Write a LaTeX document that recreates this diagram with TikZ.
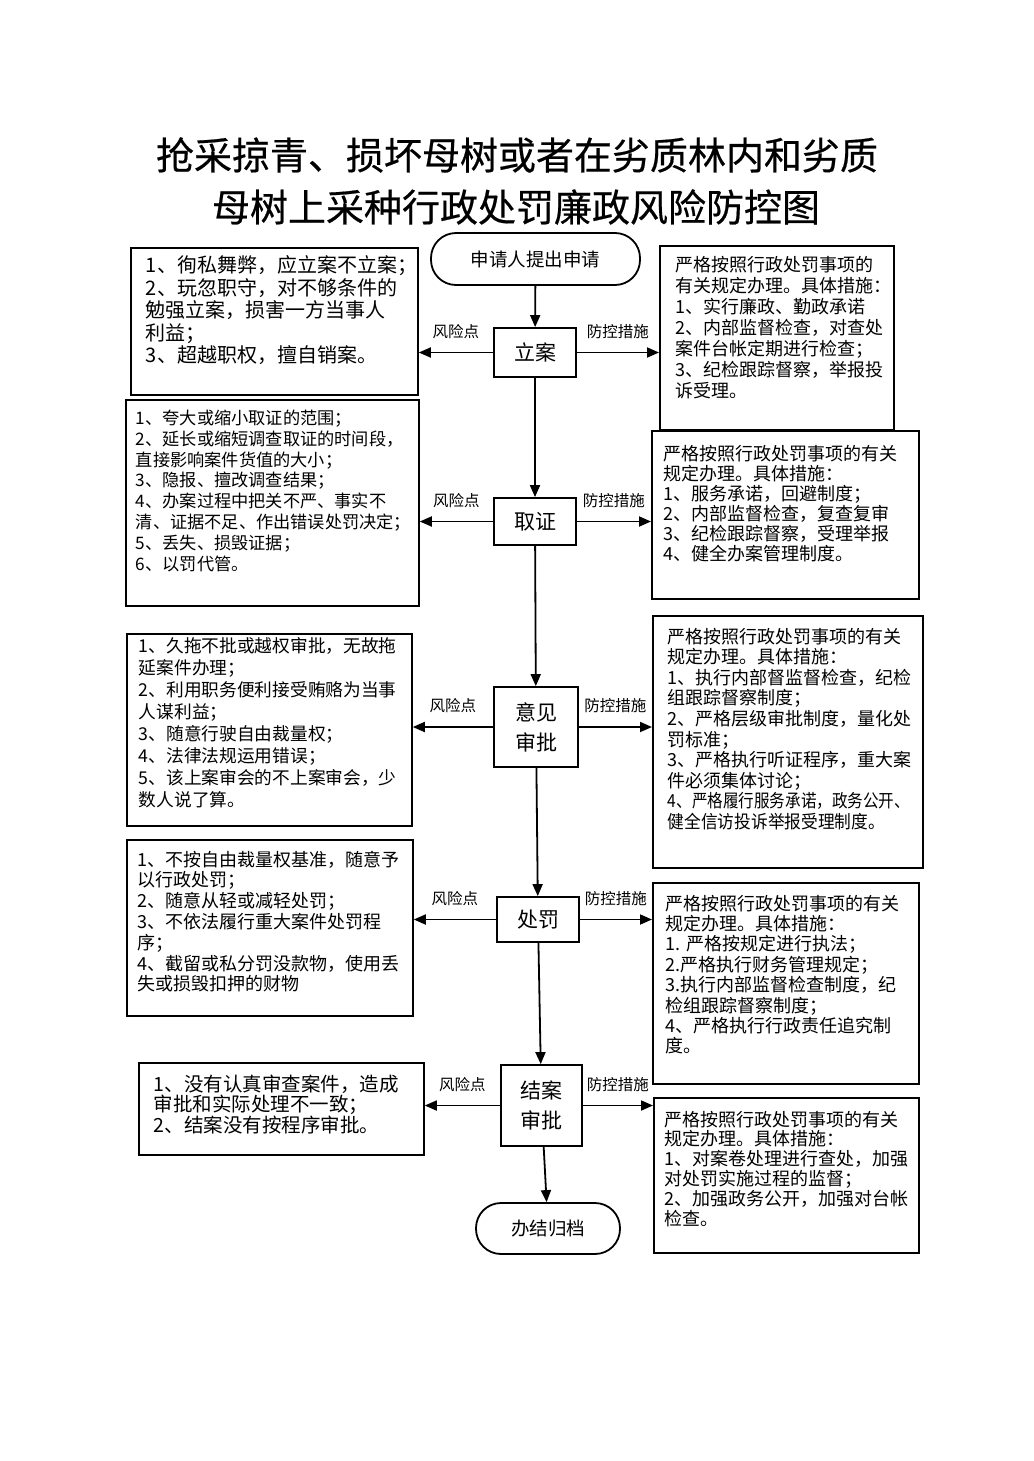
\documentclass[tikz,border=0pt]{standalone}
\usepackage{fontspec}
\setmainfont{Noto Sans CJK SC}
\newfontfamily\titlefont[FakeBold=0.5]{Noto Sans CJK SC}
\usetikzlibrary{arrows.meta,positioning}

\begin{document}
\begin{tikzpicture}[x=1pt,y=-1pt,line width=1.8pt,>={Triangle[length=12pt,width=10pt]},
        listbox/.style={draw,rectangle,anchor=north west,inner sep=0pt},
        stepbox/.style={draw,rectangle,inner sep=0pt,align=center,font=\fontsize{21}{30}\selectfont},
        term/.style={draw,rectangle,rounded corners=25pt,inner sep=0pt,font=\fontsize{18.5}{20}\selectfont},
        txt/.style={anchor=north west,inner sep=0pt,align=left},
        tag/.style={inner sep=0pt,font=\fontsize{15.5}{18}\selectfont},
        headline/.style={inner sep=0pt,font=\titlefont\fontsize{38}{44}\selectfont}]
        \useasboundingbox (0,0) rectangle (1033,1461);

        % title
        \node[headline] (t1) at (517,155) {抢采掠青、损坏母树或者在劣质林内和劣质};
        \node[headline] (t2) at (516,207) {母树上采种行政处罚廉政风险防控图};

        % main flow
        \node[term, minimum width=209pt, minimum height=52pt]   (start) at (535.5,259)  {申请人提出申请};
        \node[stepbox, minimum width=82pt, minimum height=49pt] (la)    at (535,352.5)  {立案};
        \node[stepbox, minimum width=82pt, minimum height=47pt] (qz)    at (535,521.5)  {取证};
        \node[stepbox, minimum width=84pt, minimum height=80pt] (yj)    at (536,727)    {意见\\审批};
        \node[stepbox, minimum width=82pt, minimum height=45pt] (cf)    at (538,919.5)  {处罚};
        \node[stepbox, minimum width=81pt, minimum height=81pt] (ja)    at (541.5,1105.5) {结案\\审批};
        \node[term, minimum width=144pt, minimum height=51pt]   (done)  at (548,1228.5) {办结归档};

        % risk points
        \node[listbox, minimum width=287pt, minimum height=147pt] (r1) at (130,247)  {};
        \node[listbox, minimum width=293pt, minimum height=206pt] (r2) at (125,399)  {};
        \node[listbox, minimum width=285pt, minimum height=192pt] (r3) at (126,633)  {};
        \node[listbox, minimum width=286pt, minimum height=176pt] (r4) at (126,839)  {};
        \node[listbox, minimum width=285pt, minimum height=92pt]  (r5) at (138,1062) {};

        % control measures
        \node[listbox, minimum width=234pt, minimum height=184pt] (c1) at (659,245)  {};
        \node[listbox, minimum width=267pt, minimum height=168pt] (c2) at (651,430)  {};
        \node[listbox, minimum width=270pt, minimum height=252pt] (c3) at (652,615)  {};
        \node[listbox, minimum width=266pt, minimum height=201pt] (c4) at (652,882)  {};
        \node[listbox, minimum width=265pt, minimum height=155pt] (c5) at (653,1097) {};

        \node[txt, font=\fontsize{20}{22.5}\selectfont] (r1t) at ([shift={(15,8)}]r1.north west)
            {1、徇私舞弊，应立案不立案；\\2、玩忽职守，对不够条件的\\勉强立案，损害一方当事人\\利益；\\3、超越职权，擅自销案。};
        \node[txt, font=\fontsize{17.2}{20.8}\selectfont] (r2t) at ([shift={(10,10)}]r2.north west)
            {1、夸大或缩小取证的范围；\\2、延长或缩短调查取证的时间段，\\直接影响案件货值的大小；\\3、隐报、擅改调查结果；\\4、办案过程中把关不严、事实不\\清、证据不足、作出错误处罚决定；\\5、丢失、损毁证据；\\6、以罚代管。};
        \node[txt, font=\fontsize{17.7}{22}\selectfont] (r3t) at ([shift={(12,4)}]r3.north west)
            {1、久拖不批或越权审批，无故拖\\延案件办理；\\2、利用职务便利接受贿赂为当事\\人谋利益；\\3、随意行驶自由裁量权；\\4、法律法规运用错误；\\5、该上案审会的不上案审会，少\\数人说了算。};
        \node[txt, font=\fontsize{18}{20.8}\selectfont] (r4t) at ([shift={(11,11)}]r4.north west)
            {1、不按自由裁量权基准，随意予\\以行政处罚；\\2、随意从轻或减轻处罚；\\3、不依法履行重大案件处罚程\\序；\\4、截留或私分罚没款物，使用丢\\失或损毁扣押的财物};
        \node[txt, font=\fontsize{19.5}{20.5}\selectfont] (r5t) at ([shift={(15,12)}]r5.north west)
            {1、没有认真审查案件，造成\\审批和实际处理不一致；\\2、结案没有按程序审批。};

        \node[txt, font=\fontsize{18}{21}\selectfont] (c1t) at ([shift={(16,10)}]c1.north west)
            {严格按照行政处罚事项的\\有关规定办理。具体措施：\\1、实行廉政、勤政承诺\\2、内部监督检查，对查处\\案件台帐定期进行检查；\\3、纪检跟踪督察，举报投\\诉受理。};
        \node[txt, font=\fontsize{18}{20}\selectfont] (c2t) at ([shift={(12,14)}]c2.north west)
            {严格按照行政处罚事项的有关\\规定办理。具体措施：\\1、服务承诺，回避制度；\\2、内部监督检查，复查复审\\3、纪检跟踪督察，受理举报\\4、健全办案管理制度。};
        \node[txt, font=\fontsize{18}{20.6}\selectfont] (c3t) at ([shift={(15,12)}]c3.north west)
            {严格按照行政处罚事项的有关\\规定办理。具体措施：\\1、执行内部督监督检查，纪检\\组跟踪督察制度；\\2、严格层级审批制度，量化处\\罚标准；\\3、严格执行听证程序，重大案\\件必须集体讨论；\\\resizebox{242pt}{\height}{4、严格履行服务承诺，政务公开、}\\\resizebox{217pt}{\height}{健全信访投诉举报受理制度。}};
        \node[txt, font=\fontsize{18}{20.4}\selectfont] (c4t) at ([shift={(13,12)}]c4.north west)
            {严格按照行政处罚事项的有关\\规定办理。具体措施：\\1. 严格按规定进行执法；\\2.严格执行财务管理规定；\\3.执行内部监督检查制度，纪\\检组跟踪督察制度；\\4、严格执行行政责任追究制\\度。};
        \node[txt, font=\fontsize{18}{19.8}\selectfont] (c5t) at ([shift={(11,13)}]c5.north west)
            {严格按照行政处罚事项的有关\\规定办理。具体措施：\\1、对案卷处理进行查处，加强\\对处罚实施过程的监督；\\2、加强政务公开，加强对台帐\\检查。};

        \path[->]
        (start) edge (la)
        (la)    edge (qz)
        (qz)    edge (yj)
        (yj)    edge (cf)
        (cf)    edge (ja)
        (ja)    edge (done)
        (la.west) edge node[tag,above=13pt] {风险点}   (la.west -| r1.east)
        (la.east) edge node[tag,above=13pt] {防控措施} (la.east -| c1.west)
        (qz.west) edge node[tag,above=13pt] {风险点}   (qz.west -| r2.east)
        (qz.east) edge node[tag,above=13pt] {防控措施} (qz.east -| c2.west)
        (yj.west) edge node[tag,above=13pt] {风险点}   (yj.west -| r3.east)
        (yj.east) edge node[tag,above=13pt] {防控措施} (yj.east -| c3.west)
        (cf.west) edge node[tag,above=13pt] {风险点}   (cf.west -| r4.east)
        (cf.east) edge node[tag,above=13pt] {防控措施} (cf.east -| c4.west)
        (ja.west) edge node[tag,above=13pt] {风险点}   (ja.west -| r5.east)
        (ja.east) edge node[tag,above=13pt] {防控措施} (ja.east -| c5.west)
        ;
    \end{tikzpicture}
\end{document}
